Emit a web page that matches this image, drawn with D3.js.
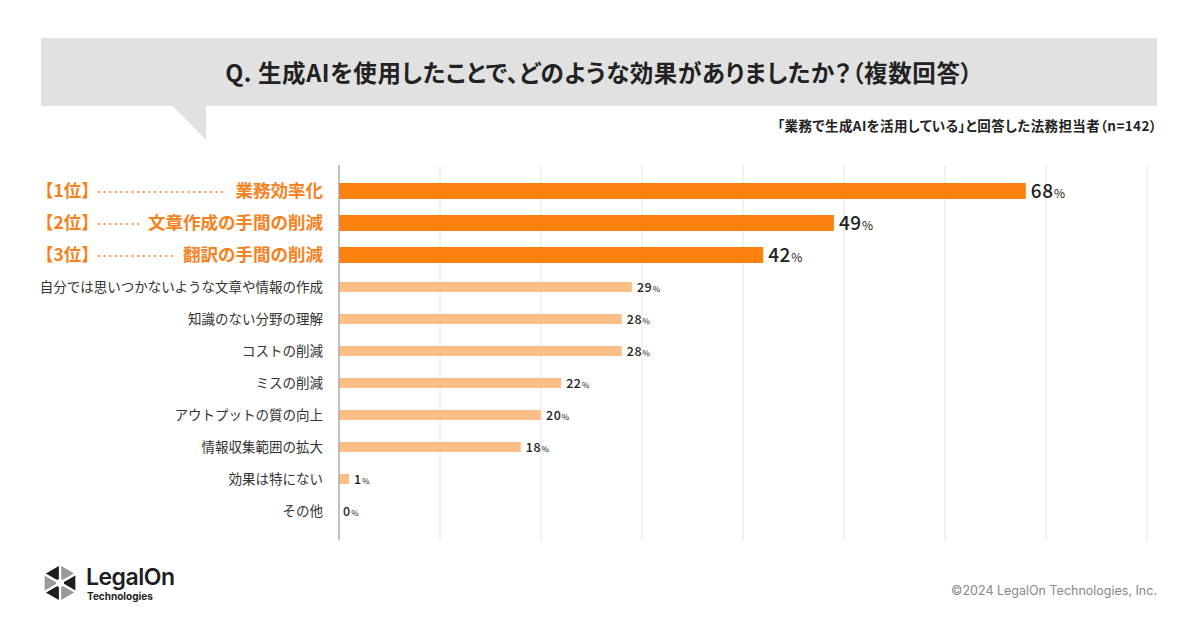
<!DOCTYPE html>
<html>
<head>
<meta charset="utf-8">
<script src="https://cdn.jsdelivr.net/npm/d3@7"></script>
<style>
  html, body { margin: 0; padding: 0; background: #fff; }
  svg { display: block; font-family: "Noto Sans CJK JP", "Noto Sans", sans-serif; }
  .palt { font-feature-settings: "palt"; }
</style>
</head>
<body>
<script>
const width = 1200;
const height = 630;

// data
const ranks = ["【1位】", "【2位】", "【3位】"];
const categories = [
  "業務効率化",
  "文章作成の手間の削減",
  "翻訳の手間の削減",
  "自分では思いつかないような文章や情報の作成",
  "知識のない分野の理解",
  "コストの削減",
  "ミスの削減",
  "アウトプットの質の向上",
  "情報収集範囲の拡大",
  "効果は特にない",
  "その他"
];
const values = [68, 49, 42, 29, 28, 28, 22, 20, 18, 1, 0];
const gridTicks = [0, 10, 20, 30, 40, 50, 60, 70, 80];

const titleText = "Q. 生成AIを使用したことで、どのような効果がありましたか？（複数回答）";
const subtitleText = "「業務で生成AIを活用している」と回答した法務担当者（n=142）";

const svg = d3.select("body").append("svg").attr("width", width).attr("height", height);

// title band with speech-bubble tail
svg.append("rect")
  .attr("x", 41).attr("y", 38).attr("width", 1116).attr("height", 68)
  .attr("fill", "#e1e1e1");
svg.append("path")
  .attr("d", "M172,105 L206,105 L206,140 Z")
  .attr("fill", "#e1e1e1");
svg.append("text")
  .attr("class", "palt")
  .attr("x", 599).attr("y", 82)
  .attr("text-anchor", "middle")
  .attr("font-size", 23.5).attr("font-weight", 700)
  .attr("letter-spacing", 0.6)
  .attr("fill", "#222")
  .text(titleText);

svg.append("text")
  .attr("class", "palt")
  .attr("x", 1157).attr("y", 131)
  .attr("text-anchor", "end")
  .attr("font-size", 13.5).attr("font-weight", 700)
  .attr("letter-spacing", 0.4)
  .attr("fill", "#222")
  .text(subtitleText);

// scales
const x = d3.scaleLinear().domain([0, 80]).range([339, 1147]);
const y = d3.scaleBand().domain(categories).range([175, 527]).padding(0);

// grid
svg.append("g")
  .selectAll("line")
  .data(gridTicks.slice(1))
  .join("line")
  .attr("x1", (d) => x(d)).attr("x2", (d) => x(d))
  .attr("y1", 165).attr("y2", 540)
  .attr("stroke", "#e4e4e4").attr("stroke-width", 1);

// bars
const isTop = (i) => i < 3;
svg.append("g")
  .selectAll("rect")
  .data(values)
  .join("rect")
  .attr("x", x(0))
  .attr("y", (d, i) => y(categories[i]) + y.bandwidth() / 2 - (isTop(i) ? 8 : 5))
  .attr("width", (d) => x(d) - x(0))
  .attr("height", (d, i) => (isTop(i) ? 16 : 10))
  .attr("fill", (d, i) => (isTop(i) ? "#fc810e" : "#fdbf87"));

// axis line
svg.append("line")
  .attr("x1", x(0)).attr("x2", x(0))
  .attr("y1", 165).attr("y2", 540)
  .attr("stroke", "#999").attr("stroke-width", 1.2);

// value labels
const vl = svg.append("g")
  .selectAll("text")
  .data(values)
  .join("text")
  .attr("x", (d) => x(d) + (d === 0 ? 4 : 5))
  .attr("y", (d, i) => y(categories[i]) + y.bandwidth() / 2 + (isTop(i) ? 6.5 : 4.5))
  .attr("fill", "#222");
vl.append("tspan")
  .attr("font-size", (d, i) => (isTop(i) ? 19 : 12.5))
  .attr("font-weight", 500)
  .attr("letter-spacing", 0.5)
  .text((d) => d);
vl.append("tspan")
  .attr("font-size", (d, i) => (isTop(i) ? 12 : 8))
  .attr("dx", 0.5)
  .text("%");

// category labels
const labelRight = 323;
const orange = "#f5821e";
const lab = svg.append("g")
  .selectAll("g")
  .data(categories)
  .join("g")
  .attr("transform", (d) => `translate(0,${y(d) + y.bandwidth() / 2})`);

lab.append("text")
  .attr("x", labelRight)
  .attr("y", (d, i) => (isTop(i) ? 6 : 4.5))
  .attr("text-anchor", "end")
  .attr("font-size", (d, i) => (isTop(i) ? 17.5 : 13.5))
  .attr("font-weight", (d, i) => (isTop(i) ? 700 : 400))
  .attr("fill", (d, i) => (isTop(i) ? orange : "#333"))
  .text((d) => d);

// rank prefix and leader dots for top 3
lab.filter((d, i) => isTop(i)).each(function (d, i) {
  const g = d3.select(this);
  const t = g.select("text");
  const textStart = labelRight - t.node().getComputedTextLength();
  g.append("text")
    .attr("x", 36).attr("y", 6)
    .attr("font-size", 17.5).attr("font-weight", 700)
    .attr("fill", orange)
    .text(ranks[i]);
  const dotStart = 99;
  const dotEnd = textStart - 8;
  g.append("line")
    .attr("x1", dotStart).attr("x2", dotEnd)
    .attr("y1", 1).attr("y2", 1)
    .attr("stroke", orange)
    .attr("stroke-width", 2)
    .attr("stroke-linecap", "round")
    .attr("stroke-dasharray", "0,5.6");
});

// logo
const logo = svg.append("g").attr("transform", "translate(60,583)");
const r = 19;
d3.range(6).forEach((k) => {
  const a0 = (Math.PI / 3) * k - Math.PI / 2;
  const a1 = a0 + Math.PI / 3;
  logo.append("path")
    .attr("d", `M0,0 L${r * Math.cos(a0)},${r * Math.sin(a0)} L${r * Math.cos(a1)},${r * Math.sin(a1)} Z`)
    .attr("fill", k % 2 === 0 ? "#9a9a9a" : "#1e1e1e")
    .attr("stroke", "#fff")
    .attr("stroke-width", 2.2);
});
logo.append("circle").attr("r", 4).attr("fill", "#fff");

svg.append("text")
  .attr("x", 86).attr("y", 585)
  .attr("font-family", "Inter, 'Noto Sans', sans-serif")
  .attr("font-size", 23).attr("font-weight", 600)
  .attr("letter-spacing", -0.5)
  .attr("fill", "#1e1e1e")
  .text("LegalOn");
svg.append("text")
  .attr("x", 87).attr("y", 600)
  .attr("font-family", "Inter, 'Noto Sans', sans-serif")
  .attr("font-size", 10).attr("font-weight", 700)
  .attr("fill", "#1e1e1e")
  .text("Technologies");

svg.append("text")
  .attr("x", 1157).attr("y", 595)
  .attr("text-anchor", "end")
  .attr("font-family", "Inter, 'Noto Sans', sans-serif")
  .attr("font-size", 12.5)
  .attr("fill", "#888")
  .text("©2024 LegalOn Technologies, Inc.");
</script>
</body>
</html>
